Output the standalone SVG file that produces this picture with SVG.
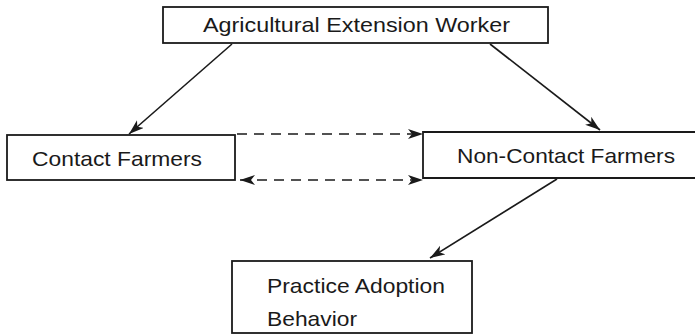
<svg xmlns="http://www.w3.org/2000/svg" width="695" height="336" viewBox="0 0 695 336">
<style>
.box{fill:#fff;stroke:#1a1a1a;stroke-width:1.8}
.lbl{font-family:"Liberation Sans",Arial,sans-serif;font-size:21px;fill:#1a1a1a}
.edge{stroke:#1a1a1a;stroke-width:1.6;fill:none}
.dash{stroke-dasharray:10 7}
</style>
<defs>
<marker id="ah" markerUnits="userSpaceOnUse" markerWidth="16" markerHeight="12" refX="15" refY="5" orient="auto">
<path d="M0,0 L15,5 L0,10 L4,5 Z" fill="#1a1a1a"/>
</marker>
<marker id="ahs" markerUnits="userSpaceOnUse" markerWidth="16" markerHeight="12" refX="15" refY="5" orient="auto-start-reverse">
<path d="M0,0 L15,5 L0,10 L4,5 Z" fill="#1a1a1a"/>
</marker>
</defs>
<rect width="695" height="336" fill="#fff"/>
<g id="connectors">
<line class="edge" x1="232" y1="44" x2="129" y2="134" marker-end="url(#ah)"/>
<line class="edge" x1="490" y1="44" x2="600" y2="130" marker-end="url(#ah)"/>
<line class="edge" x1="557" y1="179" x2="430" y2="258" marker-end="url(#ah)"/>
<line class="edge dash" x1="237" y1="134" x2="423" y2="134" marker-end="url(#ah)"/>
<line class="edge dash" x1="240" y1="180" x2="423" y2="180" marker-start="url(#ahs)" marker-end="url(#ah)"/>
</g>
<g id="node-worker">
<rect class="box" x="163" y="7" width="385" height="36"/>
<text class="lbl" x="203" y="32" textLength="307" lengthAdjust="spacingAndGlyphs">Agricultural Extension Worker</text>
</g>
<g id="node-contact">
<rect class="box" x="7" y="135" width="228" height="45"/>
<text class="lbl" x="32" y="166" textLength="170" lengthAdjust="spacingAndGlyphs">Contact Farmers</text>
</g>
<g id="node-noncontact">
<path class="box" d="M697,132 L423,132 L423,178 L697,178"/>
<text class="lbl" x="457" y="163" textLength="218" lengthAdjust="spacingAndGlyphs">Non-Contact Farmers</text>
</g>
<g id="node-practice">
<rect class="box" x="232" y="261" width="240" height="72"/>
<text class="lbl" x="267" y="293" textLength="178" lengthAdjust="spacingAndGlyphs">Practice Adoption</text>
<text class="lbl" x="267" y="326" textLength="90" lengthAdjust="spacingAndGlyphs">Behavior</text>
</g>
</svg>
